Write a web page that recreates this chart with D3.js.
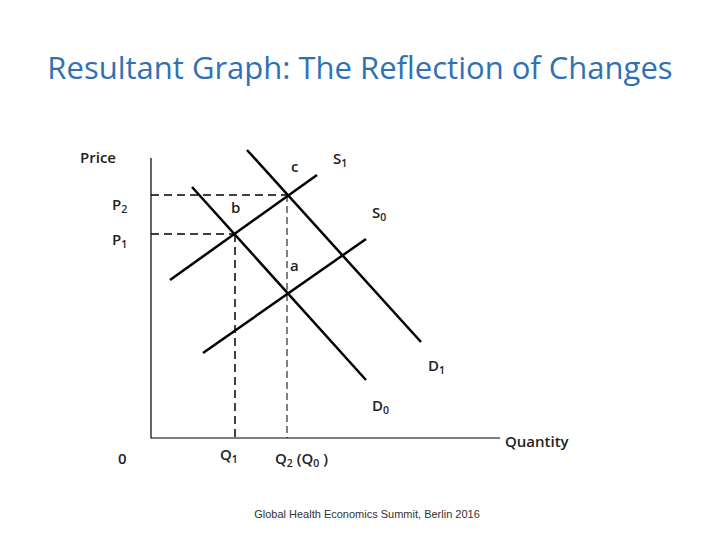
<!DOCTYPE html>
<html><head><meta charset="utf-8">
<script src="https://cdn.jsdelivr.net/npm/d3@7"></script>
<style>body{margin:0;background:#fff}</style>
</head><body>
<svg id="c" width="720" height="540"></svg>
<script>
// curves in chart units (x: quantity, y: price), origin at axes corner
const curves = [
  {name: 'S1', pts: [[19, 158], [166, 263]]},
  {name: 'S0', pts: [[52, 85], [215, 199]]},
  {name: 'D0', pts: [[41, 251], [215, 58]]},
  {name: 'D1', pts: [[96, 288], [270, 96]]}
];
const P1 = 204, P2 = 243, Q1 = 84, Q2 = 136;
const curveLabels = [
  {t: 'c', x: 140, y: 266}, {t: 'S', sub: '1', x: 182, y: 274},
  {t: 'b', x: 80, y: 225}, {t: 'S', sub: '0', x: 221, y: 220},
  {t: 'a', x: 139, y: 167}, {t: 'D', sub: '1', x: 277, y: 67},
  {t: 'D', sub: '0', x: 221, y: 27}
];

const svg = d3.select('#c');
const font = 'Open Sans, Liberation Sans, sans-serif';
const x = d3.scaleLinear().domain([0, 349]).range([151, 500]);
const y = d3.scaleLinear().domain([0, 280]).range([438, 158]);

svg.append('text').attr('x', 360).attr('y', 79).attr('text-anchor', 'middle')
  .attr('font-family', 'Open Sans, sans-serif').attr('font-size', 31).attr('fill', '#2f72b4')
  .text('Resultant Graph: The Reflection of Changes');

// axes
svg.append('path').attr('d', `M${x(0)},${y(280)}V${y(0)}H${x(349)}`)
  .attr('fill', 'none').attr('stroke', '#000').attr('stroke-width', 1.2);

// dashed guides
const dash = [
  {d: [[0, P2], [Q2, P2]], w: 1.5, da: '8,5'},
  {d: [[0, P1], [Q1, P1]], w: 1.5, da: '8,5'},
  {d: [[Q1, P1], [Q1, 0]], w: 1.5, da: '8,5'},
  {d: [[Q2, P2], [Q2, 0]], w: 1, da: '7,4'}
];
const line = d3.line().x(d => x(d[0])).y(d => y(d[1]));
dash.forEach(g => svg.append('path').attr('d', line(g.d)).attr('stroke', '#000')
  .attr('stroke-width', g.w).attr('stroke-dasharray', g.da).attr('fill', 'none'));

curves.forEach(c => svg.append('path').attr('d', line(c.pts))
  .attr('stroke', '#000').attr('stroke-width', 2.5).attr('fill', 'none'));

function label(t, sub, px, py, size) {
  const el = svg.append('text').attr('x', px).attr('y', py).attr('font-family', font)
    .attr('font-size', size).attr('font-weight', 600).attr('fill', '#222');
  el.append('tspan').text(t);
  if (sub) el.append('tspan').attr('font-size', size * 0.7).attr('dy', 3).text(sub);
  return el;
}
curveLabels.forEach(l => label(l.t, l.sub, x(l.x), y(l.y), 15));

label('Price', null, 80, 163, 15);
label('P', '2', 112, 210, 15);
label('P', '1', 112, 245, 15);
label('0', null, 118, 464, 15);
label('Q', '1', 220, 460, 15);
const q2 = label('Q', '2', 275, 464, 15);
q2.append('tspan').attr('dy', -3).text(' (Q');
q2.append('tspan').attr('font-size', 10.5).attr('dy', 3).text('0');
q2.append('tspan').attr('dy', -3).text(' )');
label('Quantity', null, 505, 447, 15);

svg.append('text').attr('x', 367).attr('y', 518).attr('text-anchor', 'middle')
  .attr('font-family', 'Liberation Sans, sans-serif').attr('font-size', 11).attr('fill', '#333')
  .text('Global Health Economics Summit, Berlin  2016');
</script>
</body></html>
